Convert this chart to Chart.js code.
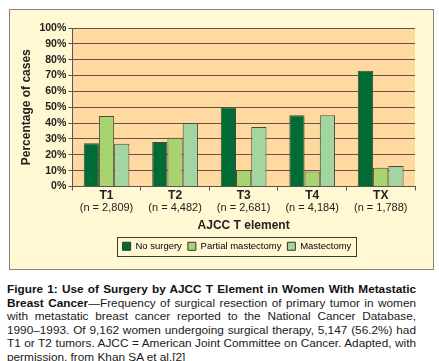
<!DOCTYPE html>
<html>
<head>
<meta charset="utf-8">
<script src="https://cdn.jsdelivr.net/npm/chart.js@4/dist/chart.umd.min.js"></script>
<style>
  html, body { margin: 0; padding: 0; background: #ffffff; }
  body { width: 439px; height: 361px; position: relative; overflow: hidden; font-family: "Liberation Sans", Arial, sans-serif; }
  #wrap { position: absolute; left: 0; top: 0; width: 439px; height: 272px; }
  #caption { position: absolute; left: 7px; top: 283px; width: 409px; font-size: 11.8px; line-height: 13.6px; color: #1a1a1a; text-align: justify; text-align-last: left; }
  #caption b { font-weight: bold; color: #111; }
</style>
</head>
<body>
<div id="wrap"><canvas id="c" width="439" height="272"></canvas></div>
<div id="caption"><b>Figure 1: Use of Surgery by AJCC T Element in Women With Metastatic Breast Cancer</b>—Frequency of surgical resection of primary tumor in women with metastatic breast cancer reported to the National Cancer Database, 1990–1993. Of 9,162 women undergoing surgical therapy, 5,147 (56.2%) had T1 or T2 tumors. AJCC = American Joint Committee on Cancer. Adapted, with permission, from Khan SA et al.[2]</div>
<script>
const categories = ["T1", "T2", "T3", "T4", "TX"];
const nLabels = ["(n = 2,809)", "(n = 4,482)", "(n = 2,681)", "(n = 4,184)", "(n = 1,788)"];
const noSurgery = [27.3, 28, 50, 45, 73];
const partialMastectomy = [44.5, 30.7, 10.3, 9.5, 11.9];
const mastectomy = [27, 40, 37.5, 45, 13];
const seriesNames = ["No surgery", "Partial mastectomy", "Mastectomy"];

const FONT = "'Liberation Sans', Arial, sans-serif";

const bgPlugin = {
  id: 'bg',
  afterLayout(chart) {
    const lg = chart.legend;
    if (lg) { lg.left += 20; lg.right += 20; }
  },
  beforeDraw(chart) {
    const ctx = chart.ctx;
    const a = chart.chartArea;
    ctx.save();
    ctx.fillStyle = '#FFF8D2';
    ctx.fillRect(9.5, 9.5, 424, 260);
    ctx.strokeStyle = '#8a8470';
    ctx.lineWidth = 1;
    ctx.strokeRect(9.5, 9.5, 424, 260);
    ctx.fillStyle = '#FFD9A0';
    ctx.fillRect(a.left, a.top, a.right - a.left, a.bottom - a.top);
    ctx.restore();
  },
  afterDraw(chart) {
    const lg = chart.legend;
    if (!lg || !lg.legendHitBoxes || !lg.legendHitBoxes.length) return;
    let l = Infinity, r = -Infinity, t = Infinity, b = -Infinity;
    lg.legendHitBoxes.forEach(h => {
      l = Math.min(l, h.left); r = Math.max(r, h.left + h.width);
      t = Math.min(t, h.top); b = Math.max(b, h.top + h.height);
    });
    const ctx = chart.ctx;
    ctx.save();
    ctx.strokeStyle = '#3a3a30';
    ctx.lineWidth = 1;
    ctx.strokeRect(Math.round(l - 6) + 0.5, Math.round(t - 5) + 0.5, Math.round(r - l + 10), Math.round(b - t + 9));
    ctx.restore();
  }
};

new Chart(document.getElementById('c'), {
  type: 'bar',
  data: {
    labels: categories,
    datasets: [
      { label: seriesNames[0], data: noSurgery, backgroundColor: '#006B35', borderColor: '#4a4a3a', borderWidth: 1 },
      { label: seriesNames[1], data: partialMastectomy, backgroundColor: '#A8D46F', borderColor: '#4a4a3a', borderWidth: 1 },
      { label: seriesNames[2], data: mastectomy, backgroundColor: '#A3D5A0', borderColor: '#4a4a3a', borderWidth: 1 }
    ]
  },
  options: {
    responsive: false,
    animation: false,
    devicePixelRatio: 1,
    layout: { padding: { left: 19, right: 24, top: 28, bottom: 11 } },
    datasets: { bar: { categoryPercentage: 0.667, barPercentage: 1.0 } },
    plugins: {
      tooltip: { enabled: false },
      legend: {
        position: 'bottom',
        labels: {
          boxWidth: 8, boxHeight: 8, padding: 6,
          color: '#222',
          font: { family: FONT, size: 9.5 },
          generateLabels(chart) {
            return chart.data.datasets.map((d, i) => ({
              text: d.label, fillStyle: d.backgroundColor, strokeStyle: '#333', lineWidth: 1, datasetIndex: i, hidden: false
            }));
          }
        }
      }
    },
    scales: {
      x: {
        type: 'category',
        offset: true,
        weight: 0,
        grid: { display: true, drawOnChartArea: false, offset: true, tickLength: 4, color: '#555' },
        border: { display: true, color: '#555' },
        ticks: { color: '#222', padding: -1, maxRotation: 0, font: { family: FONT, size: 12, weight: 'bold', lineHeight: 1 } }
      },
      x2: {
        type: 'category',
        labels: nLabels,
        position: 'bottom',
        offset: true,
        weight: 1,
        grid: { display: false, drawTicks: false },
        border: { display: false },
        ticks: { color: '#222', padding: 2, maxRotation: 0, font: { family: FONT, size: 11, lineHeight: 1 } },
        title: { display: true, text: 'AJCC T element', color: '#222', padding: { top: 4, bottom: 4 }, font: { family: FONT, size: 12, weight: 'bold', lineHeight: 1 } }
      },
      y: {
        min: 0, max: 100,
        ticks: { stepSize: 10, autoSkip: false, color: '#222', padding: 2, callback: v => v + '%', font: { family: FONT, size: 10.5, weight: 'bold' } },
        grid: { color: '#5a5a50', lineWidth: 1, tickLength: 4 },
        border: { display: true, color: '#555' },
        title: { display: true, text: 'Percentage of cases', color: '#222', padding: { top: 0, bottom: 4 }, font: { family: FONT, size: 12, weight: 'bold' } }
      }
    }
  },
  plugins: [bgPlugin]
});
</script>
</body>
</html>
